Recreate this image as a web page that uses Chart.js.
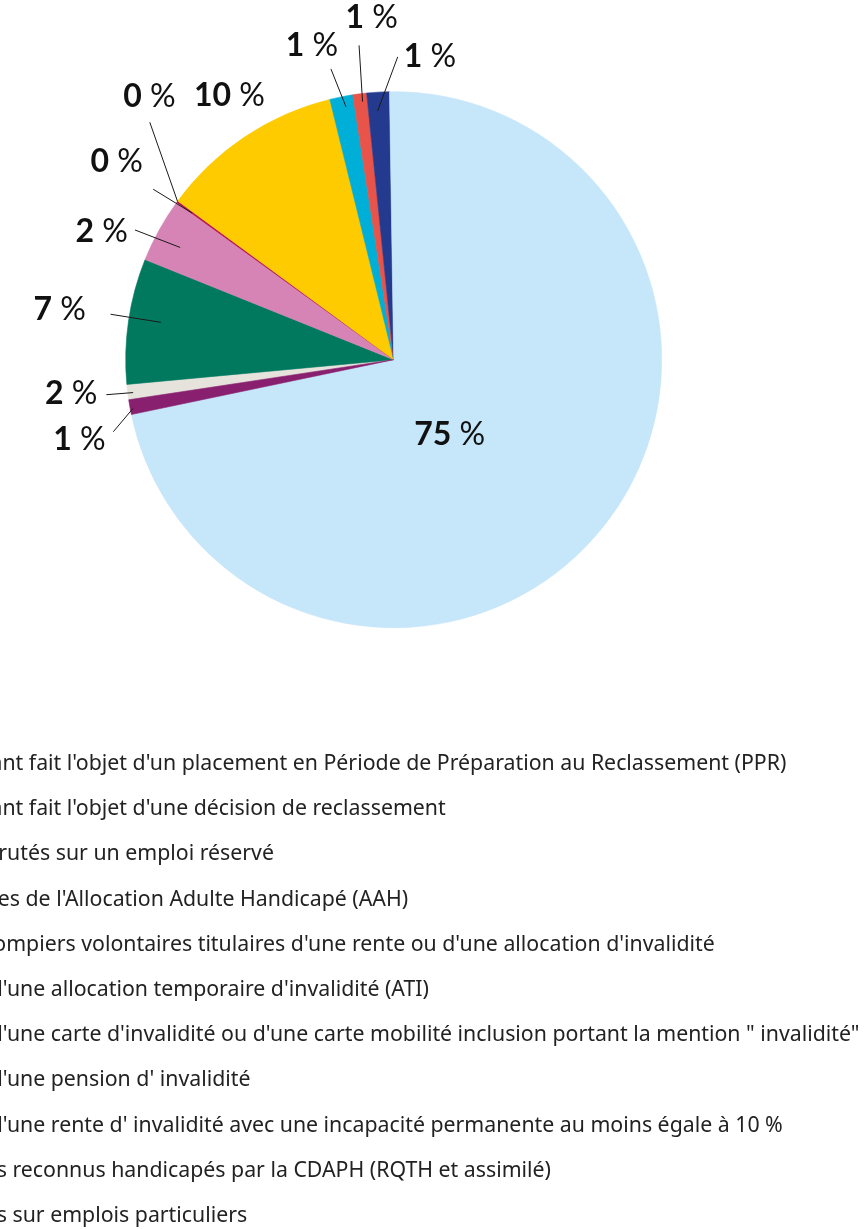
<!DOCTYPE html>
<html lang="fr">
<head>
<meta charset="utf-8">
<script src="https://cdn.jsdelivr.net/npm/chart.js@4.4.1/dist/chart.umd.min.js"></script>
<style>
  html, body { margin: 0; padding: 0; background: #fff; overflow: hidden; }
  .chart-box { position: relative; width: 864px; height: 1229px; }
</style>
</head>
<body>
<div class="chart-box"><canvas id="pieChart"></canvas></div>
<script>
/*=============== DATA ===============*/
const categories = [
  "Agents ayant fait l'objet d'un placement en Période de Préparation au Reclassement (PPR)",
  "Agents ayant fait l'objet d'une décision de reclassement",
  "Agents recrutés sur un emploi réservé",
  "Bénéficiaires de l'Allocation Adulte Handicapé (AAH)",
  "Sapeurs-pompiers volontaires titulaires d'une rente ou d'une allocation d'invalidité",
  "Titulaires d'une allocation temporaire d'invalidité (ATI)",
  "Titulaires d'une carte d'invalidité ou d'une carte mobilité inclusion portant la mention \" invalidité\"",
  "Titulaires d'une pension d' invalidité",
  "Titulaires d'une rente d' invalidité avec une incapacité permanente au moins égale à 10 %",
  "Travailleurs reconnus handicapés par la CDAPH (RQTH et assimilé)",
  "Travailleurs sur emplois particuliers"
]

// slice sizes as drawn
const shares = [0.92, 7.56, 3.89, 0.11, 0, 11.08, 1.39, 0.83, 1.36, 71.97, 0.89]

// percentages printed on the chart
const shownPct = [2, 7, 2, 0, 0, 10, 1, 1, 1, 75, 1]

const colors = ['#e6e3dc', '#00795f', '#d683b5', '#b8124a', '#b8124a', '#fecb00',
                '#00afd8', '#e8534a', '#233a8e', '#c6e6f9', '#88206f']

/*=============== LABEL PLACEMENT (angle offset in deg, radius factor) ===============*/
const labelSpots = [
  {ta: 1.0,   tr: 1.21, line: [-0.25, 0.98, 0, 1.08]},
  {ta: 0.2,   tr: 1.26, line: [0.8, 0.88, 0.8, 1.07]},
  {ta: -5.2,  tr: 1.19, line: [-1.2, 0.90, -2.3, 1.08]},
  {ta: -0.6,  tr: 1.27, line: [-0.1, 0.93, -0.8, 1.10]},
  {ta: 10.8,  tr: 1.34, line: [-0.1, 1.0, 7.9, 1.27]},
  {ta: 1.85,  tr: 1.16, line: null},
  {ta: -3.3,  tr: 1.21, line: [0.6, 0.96, -0.9, 1.11]},
  {ta: 3.6,   tr: 1.28, line: [0.4, 0.97, 1.0, 1.18]},
  {ta: 10.15, tr: 1.14, line: [-0.35, 0.93, 4.1, 1.13]},
  {ta: 14.65, tr: 0.35, line: null},
  {ta: -4.1,  tr: 1.21, line: [-0.4, 0.99, -4.2, 1.08]}
]

const pctLabels = {
  id: 'pctLabels',
  afterDatasetsDraw(chart){
    const ctx = chart.ctx
    const arcs = chart.getDatasetMeta(0).data
    ctx.save()
    arcs.forEach((arc, i) => {
      const spot = labelSpots[i]
      const {x, y, startAngle, endAngle, outerRadius} =
        arc.getProps(['x', 'y', 'startAngle', 'endAngle', 'outerRadius'], true)
      const mid = (startAngle + endAngle) / 2
      const at = (da, rf) => {
        const a = mid + da * Math.PI / 180
        return [x + Math.cos(a) * rf * outerRadius, y + Math.sin(a) * rf * outerRadius]
      }
      /* Leader line */
      if(spot.line){
        const p1 = at(spot.line[0], spot.line[1])
        const p2 = at(spot.line[2], spot.line[3])
        ctx.beginPath()
        ctx.moveTo(p1[0], p1[1])
        ctx.lineTo(p2[0], p2[1])
        ctx.strokeStyle = '#1a1a1a'
        ctx.lineWidth = 1
        ctx.stroke()
      }
      /* Label text */
      const [tx, ty] = at(spot.ta, spot.tr)
      const num = String(shownPct[i])
      ctx.font = 'bold 32px Lato'
      const wNum = ctx.measureText(num).width
      ctx.font = '32px Lato'
      const wPct = ctx.measureText(' %').width
      const left = tx - (wNum + wPct) / 2
      ctx.textBaseline = 'middle'
      ctx.textAlign = 'left'
      ctx.fillStyle = '#111'
      ctx.font = 'bold 32px Lato'
      ctx.fillText(num, left, ty)
      ctx.font = '32px Lato'
      ctx.fillText(' %', left + wNum, ty)
    })
    ctx.restore()
  }
}

/*=============== PIE CHART ===============*/
const ctxPie = document.getElementById('pieChart').getContext('2d')
new Chart(ctxPie, {
  type: 'pie',
  data: {
    labels: categories,
    datasets: [{
      data: shares,
      backgroundColor: colors,
      borderColor: colors,
      borderWidth: 0.6
    }]
  },
  options: {
    responsive: true,
    maintainAspectRatio: false,
    animation: false,
    rotation: 261.4,
    radius: 268,
    layout: {
      // legend starts left of the page so its first words are cut off
      padding: {left: -342.15, right: 0, top: 0, bottom: -7.65}
    },
    plugins: {
      // invisible spacer on the right that moves the pie left
      title: {
        display: true,
        position: 'right',
        text: ' ',
        fullSize: false,
        font: {size: 1},
        padding: {top: 75.4, bottom: 0}
      },
      legend: {
        position: 'bottom',
        align: 'start',
        title: {
          display: true,
          text: ' ',
          font: {size: 1},
          padding: {top: 8.85, bottom: 0}
        },
        labels: {
          font: {family: 'Noto Sans', size: 21.3},
          color: '#222',
          boxWidth: 200,
          padding: 23.9
        }
      },
      tooltip: {enabled: false}
    }
  },
  plugins: [pctLabels]
});
</script>
</body>
</html>
